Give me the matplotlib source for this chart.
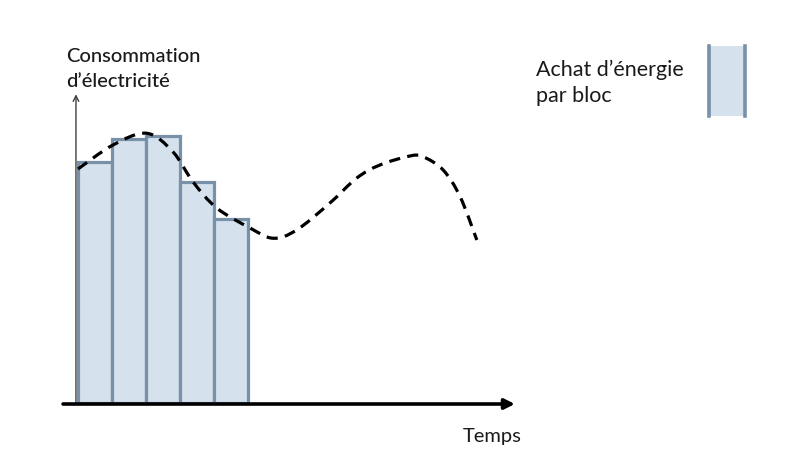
import numpy as np
import matplotlib
matplotlib.use("Agg")
import matplotlib.pyplot as plt
from matplotlib.path import Path
from matplotlib.patches import PathPatch, Rectangle
from matplotlib.lines import Line2D

# ---- data ----
block_starts = [0, 1, 2, 3, 4]                 # block index (time)
block_heights = [9.65, 10.55, 10.7, 8.83, 7.36]  # purchased energy per block
curve_t = [0.0, 1.03, 2.02, 2.79, 3.38, 4.08, 5.06, 5.74, 6.43, 7.41,
           8.2, 8.88, 9.76, 10.15, 10.74, 11.24, 11.73]
curve_c = [9.36, 10.32, 10.79, 10.05, 8.85, 7.8, 7.0, 6.59, 6.92, 8.0,
           9.0, 9.52, 9.88, 9.85, 9.32, 8.25, 6.52]
y_label = "Consommation\nd\u2019électricité"
x_label = "Temps"
legend_label = "Achat d\u2019énergie\npar bloc"

FILL = "#d5e2ed"
EDGE = "#7890a8"

W, H = 800, 476
fig = plt.figure(figsize=(W / 100, H / 100), dpi=100)
ax = fig.add_axes([0, 0, 1, 1])
px_x, x0 = 34.0, 78.0   # pixels per block, origin pixel
px_y, y0 = 25.0, 403.0
ax.set_xlim((0 - x0) / px_x, (W - x0) / px_x)
ax.set_ylim((y0 - H) / px_y, y0 / px_y)
ax.axis("off")

ax.bar(block_starts, block_heights, width=1.0, align="edge",
       color=FILL, edgecolor=EDGE, linewidth=2.3, zorder=2)

# smooth dashed curve (Catmull-Rom -> cubic Bezier through the read points)
P = np.column_stack([curve_t, curve_c])
verts = [P[0]]
codes = [Path.MOVETO]
n = len(P)
for i in range(n - 1):
    p0 = P[i - 1] if i > 0 else P[i]
    p1, p2 = P[i], P[i + 1]
    p3 = P[i + 2] if i + 2 < n else P[i + 1]
    c1 = p1 + (p2 - p0) / 6.0
    c2 = p2 - (p3 - p1) / 6.0
    verts += [c1, c2, p2]
    codes += [Path.CURVE4] * 3
ax.add_patch(PathPatch(Path(verts, codes), fill=False, edgecolor="black",
                       linewidth=2.3, linestyle=(0, (3.5, 2.3)), zorder=3,
                       capstyle="butt"))

# axes arrows
ax.annotate("", xy=(12.85, -0.04), xytext=(-0.44, -0.04),
            arrowprops=dict(arrowstyle="-|>,head_length=0.6,head_width=0.3",
                            color="black", lw=2.6, shrinkA=0, shrinkB=0), zorder=4)
ax.annotate("", xy=(-0.06, 12.35), xytext=(-0.06, -0.04),
            arrowprops=dict(arrowstyle="->,head_length=0.4,head_width=0.2",
                            color="#404040", lw=1.0, shrinkA=0, shrinkB=0), zorder=1)

# texts
fig.text(66 / W, 1 - 87 / H, y_label, fontfamily="Lato", fontsize=14.5,
         fontweight="medium", color="#1a1a1a", ha="left", va="baseline",
         linespacing=1.55)
fig.text(463 / W, 1 - 442 / H, x_label, fontfamily="Lato", fontsize=14.5,
         color="#1a1a1a", ha="left", va="baseline")
fig.text(536 / W, 1 - 102 / H, legend_label, fontfamily="Lato", fontsize=15.5,
         color="#1a1a1a", ha="left", va="baseline", linespacing=1.35)

# legend swatch
fig.patches.append(Rectangle((708 / W, 1 - 116 / H), 38 / W, 70 / H,
                             transform=fig.transFigure, facecolor=FILL,
                             edgecolor="none", figure=fig))
for xp in (709, 745):
    fig.lines.append(Line2D([xp / W, xp / W], [1 - 116 / H, 1 - 46 / H],
                            transform=fig.transFigure, color=EDGE, lw=2.6,
                            figure=fig))

fig.savefig("out.png", dpi=100)
